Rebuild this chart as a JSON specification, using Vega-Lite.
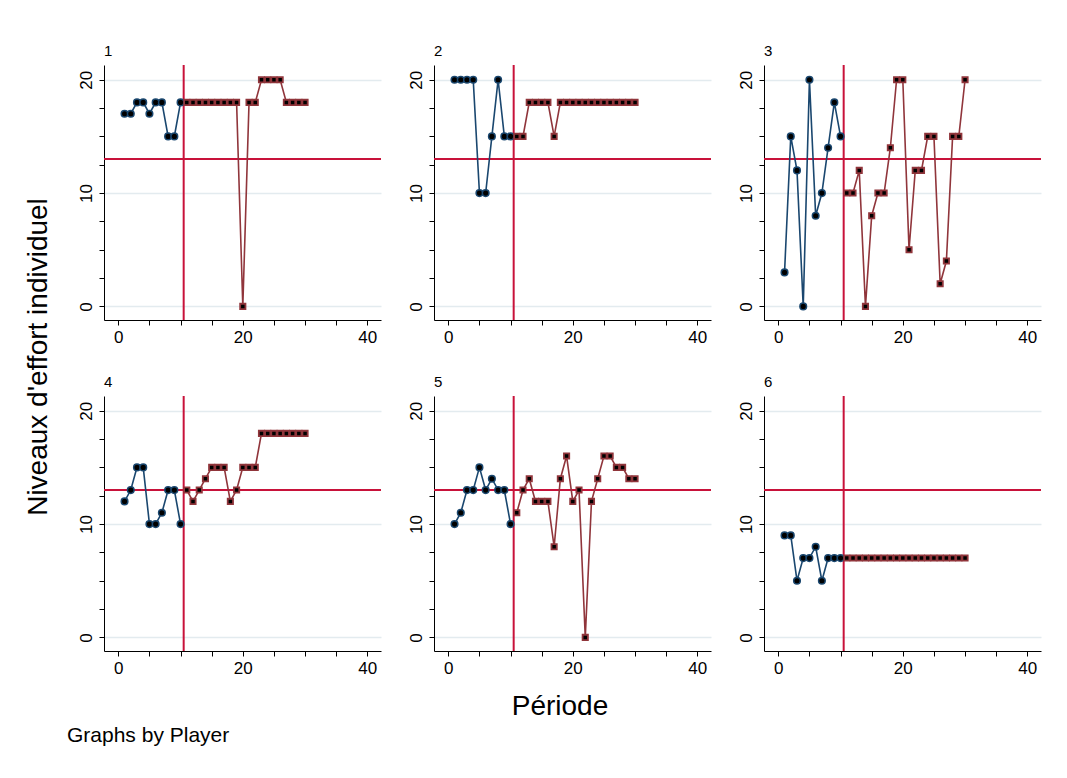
{
  "$schema": "https://vega.github.io/schema/vega-lite/v6.json",
  "background": "white",
  "padding": {"left": 24, "top": 44, "right": 10, "bottom": 10},
  "title": {"text": "Niveaux d'effort individuel", "orient": "left", "anchor": "middle", "fontSize": 28, "fontWeight": "normal", "font": "Liberation Sans", "color": "black", "offset": 14, "dx": 38},
  "spacing": 4,
  "config": {
    "view": {"stroke": null},
    "font": "Liberation Sans",
    "axis": {"domainColor": "black", "tickColor": "black", "labelColor": "black", "labelFont": "Liberation Sans", "labelFontSize": 17, "tickSize": 5, "domainWidth": 1, "tickWidth": 1, "title": null}
  },
  "vconcat": [
    {
      "data": {"values": [
        {"p":1,"t":1,"e":17,"g":"a"},{"p":1,"t":2,"e":17,"g":"a"},{"p":1,"t":3,"e":18,"g":"a"},{"p":1,"t":4,"e":18,"g":"a"},{"p":1,"t":5,"e":17,"g":"a"},{"p":1,"t":6,"e":18,"g":"a"},{"p":1,"t":7,"e":18,"g":"a"},{"p":1,"t":8,"e":15,"g":"a"},{"p":1,"t":9,"e":15,"g":"a"},{"p":1,"t":10,"e":18,"g":"a"},
        {"p":1,"t":11,"e":18,"g":"b"},{"p":1,"t":12,"e":18,"g":"b"},{"p":1,"t":13,"e":18,"g":"b"},{"p":1,"t":14,"e":18,"g":"b"},{"p":1,"t":15,"e":18,"g":"b"},{"p":1,"t":16,"e":18,"g":"b"},{"p":1,"t":17,"e":18,"g":"b"},{"p":1,"t":18,"e":18,"g":"b"},{"p":1,"t":19,"e":18,"g":"b"},{"p":1,"t":20,"e":0,"g":"b"},
        {"p":1,"t":21,"e":18,"g":"b"},{"p":1,"t":22,"e":18,"g":"b"},{"p":1,"t":23,"e":20,"g":"b"},{"p":1,"t":24,"e":20,"g":"b"},{"p":1,"t":25,"e":20,"g":"b"},{"p":1,"t":26,"e":20,"g":"b"},{"p":1,"t":27,"e":18,"g":"b"},{"p":1,"t":28,"e":18,"g":"b"},{"p":1,"t":29,"e":18,"g":"b"},{"p":1,"t":30,"e":18,"g":"b"},
        {"p":2,"t":1,"e":20,"g":"a"},{"p":2,"t":2,"e":20,"g":"a"},{"p":2,"t":3,"e":20,"g":"a"},{"p":2,"t":4,"e":20,"g":"a"},{"p":2,"t":5,"e":10,"g":"a"},{"p":2,"t":6,"e":10,"g":"a"},{"p":2,"t":7,"e":15,"g":"a"},{"p":2,"t":8,"e":20,"g":"a"},{"p":2,"t":9,"e":15,"g":"a"},{"p":2,"t":10,"e":15,"g":"a"},
        {"p":2,"t":11,"e":15,"g":"b"},{"p":2,"t":12,"e":15,"g":"b"},{"p":2,"t":13,"e":18,"g":"b"},{"p":2,"t":14,"e":18,"g":"b"},{"p":2,"t":15,"e":18,"g":"b"},{"p":2,"t":16,"e":18,"g":"b"},{"p":2,"t":17,"e":15,"g":"b"},{"p":2,"t":18,"e":18,"g":"b"},{"p":2,"t":19,"e":18,"g":"b"},{"p":2,"t":20,"e":18,"g":"b"},
        {"p":2,"t":21,"e":18,"g":"b"},{"p":2,"t":22,"e":18,"g":"b"},{"p":2,"t":23,"e":18,"g":"b"},{"p":2,"t":24,"e":18,"g":"b"},{"p":2,"t":25,"e":18,"g":"b"},{"p":2,"t":26,"e":18,"g":"b"},{"p":2,"t":27,"e":18,"g":"b"},{"p":2,"t":28,"e":18,"g":"b"},{"p":2,"t":29,"e":18,"g":"b"},{"p":2,"t":30,"e":18,"g":"b"},
        {"p":3,"t":1,"e":3,"g":"a"},{"p":3,"t":2,"e":15,"g":"a"},{"p":3,"t":3,"e":12,"g":"a"},{"p":3,"t":4,"e":0,"g":"a"},{"p":3,"t":5,"e":20,"g":"a"},{"p":3,"t":6,"e":8,"g":"a"},{"p":3,"t":7,"e":10,"g":"a"},{"p":3,"t":8,"e":14,"g":"a"},{"p":3,"t":9,"e":18,"g":"a"},{"p":3,"t":10,"e":15,"g":"a"},
        {"p":3,"t":11,"e":10,"g":"b"},{"p":3,"t":12,"e":10,"g":"b"},{"p":3,"t":13,"e":12,"g":"b"},{"p":3,"t":14,"e":0,"g":"b"},{"p":3,"t":15,"e":8,"g":"b"},{"p":3,"t":16,"e":10,"g":"b"},{"p":3,"t":17,"e":10,"g":"b"},{"p":3,"t":18,"e":14,"g":"b"},{"p":3,"t":19,"e":20,"g":"b"},{"p":3,"t":20,"e":20,"g":"b"},
        {"p":3,"t":21,"e":5,"g":"b"},{"p":3,"t":22,"e":12,"g":"b"},{"p":3,"t":23,"e":12,"g":"b"},{"p":3,"t":24,"e":15,"g":"b"},{"p":3,"t":25,"e":15,"g":"b"},{"p":3,"t":26,"e":2,"g":"b"},{"p":3,"t":27,"e":4,"g":"b"},{"p":3,"t":28,"e":15,"g":"b"},{"p":3,"t":29,"e":15,"g":"b"},{"p":3,"t":30,"e":20,"g":"b"},
        {"p":4,"t":1,"e":12,"g":"a"},{"p":4,"t":2,"e":13,"g":"a"},{"p":4,"t":3,"e":15,"g":"a"},{"p":4,"t":4,"e":15,"g":"a"},{"p":4,"t":5,"e":10,"g":"a"},{"p":4,"t":6,"e":10,"g":"a"},{"p":4,"t":7,"e":11,"g":"a"},{"p":4,"t":8,"e":13,"g":"a"},{"p":4,"t":9,"e":13,"g":"a"},{"p":4,"t":10,"e":10,"g":"a"},
        {"p":4,"t":11,"e":13,"g":"b"},{"p":4,"t":12,"e":12,"g":"b"},{"p":4,"t":13,"e":13,"g":"b"},{"p":4,"t":14,"e":14,"g":"b"},{"p":4,"t":15,"e":15,"g":"b"},{"p":4,"t":16,"e":15,"g":"b"},{"p":4,"t":17,"e":15,"g":"b"},{"p":4,"t":18,"e":12,"g":"b"},{"p":4,"t":19,"e":13,"g":"b"},{"p":4,"t":20,"e":15,"g":"b"},
        {"p":4,"t":21,"e":15,"g":"b"},{"p":4,"t":22,"e":15,"g":"b"},{"p":4,"t":23,"e":18,"g":"b"},{"p":4,"t":24,"e":18,"g":"b"},{"p":4,"t":25,"e":18,"g":"b"},{"p":4,"t":26,"e":18,"g":"b"},{"p":4,"t":27,"e":18,"g":"b"},{"p":4,"t":28,"e":18,"g":"b"},{"p":4,"t":29,"e":18,"g":"b"},{"p":4,"t":30,"e":18,"g":"b"},
        {"p":5,"t":1,"e":10,"g":"a"},{"p":5,"t":2,"e":11,"g":"a"},{"p":5,"t":3,"e":13,"g":"a"},{"p":5,"t":4,"e":13,"g":"a"},{"p":5,"t":5,"e":15,"g":"a"},{"p":5,"t":6,"e":13,"g":"a"},{"p":5,"t":7,"e":14,"g":"a"},{"p":5,"t":8,"e":13,"g":"a"},{"p":5,"t":9,"e":13,"g":"a"},{"p":5,"t":10,"e":10,"g":"a"},
        {"p":5,"t":11,"e":11,"g":"b"},{"p":5,"t":12,"e":13,"g":"b"},{"p":5,"t":13,"e":14,"g":"b"},{"p":5,"t":14,"e":12,"g":"b"},{"p":5,"t":15,"e":12,"g":"b"},{"p":5,"t":16,"e":12,"g":"b"},{"p":5,"t":17,"e":8,"g":"b"},{"p":5,"t":18,"e":14,"g":"b"},{"p":5,"t":19,"e":16,"g":"b"},{"p":5,"t":20,"e":12,"g":"b"},
        {"p":5,"t":21,"e":13,"g":"b"},{"p":5,"t":22,"e":0,"g":"b"},{"p":5,"t":23,"e":12,"g":"b"},{"p":5,"t":24,"e":14,"g":"b"},{"p":5,"t":25,"e":16,"g":"b"},{"p":5,"t":26,"e":16,"g":"b"},{"p":5,"t":27,"e":15,"g":"b"},{"p":5,"t":28,"e":15,"g":"b"},{"p":5,"t":29,"e":14,"g":"b"},{"p":5,"t":30,"e":14,"g":"b"},
        {"p":6,"t":1,"e":9,"g":"a"},{"p":6,"t":2,"e":9,"g":"a"},{"p":6,"t":3,"e":5,"g":"a"},{"p":6,"t":4,"e":7,"g":"a"},{"p":6,"t":5,"e":7,"g":"a"},{"p":6,"t":6,"e":8,"g":"a"},{"p":6,"t":7,"e":5,"g":"a"},{"p":6,"t":8,"e":7,"g":"a"},{"p":6,"t":9,"e":7,"g":"a"},{"p":6,"t":10,"e":7,"g":"a"},
        {"p":6,"t":11,"e":7,"g":"b"},{"p":6,"t":12,"e":7,"g":"b"},{"p":6,"t":13,"e":7,"g":"b"},{"p":6,"t":14,"e":7,"g":"b"},{"p":6,"t":15,"e":7,"g":"b"},{"p":6,"t":16,"e":7,"g":"b"},{"p":6,"t":17,"e":7,"g":"b"},{"p":6,"t":18,"e":7,"g":"b"},{"p":6,"t":19,"e":7,"g":"b"},{"p":6,"t":20,"e":7,"g":"b"},
        {"p":6,"t":21,"e":7,"g":"b"},{"p":6,"t":22,"e":7,"g":"b"},{"p":6,"t":23,"e":7,"g":"b"},{"p":6,"t":24,"e":7,"g":"b"},{"p":6,"t":25,"e":7,"g":"b"},{"p":6,"t":26,"e":7,"g":"b"},{"p":6,"t":27,"e":7,"g":"b"},{"p":6,"t":28,"e":7,"g":"b"},{"p":6,"t":29,"e":7,"g":"b"},{"p":6,"t":30,"e":7,"g":"b"}
      ]},
      "facet": {"field": "p", "type": "ordinal", "header": {"title": "Période", "titleOrient": "bottom", "titleFontSize": 28, "titleFontWeight": "normal", "titleFont": "Liberation Sans", "titleColor": "black", "titlePadding": 17, "labelOrient": "top", "labelAnchor": "start", "labelFontSize": 15, "labelFont": "Liberation Sans", "labelColor": "black", "labelPadding": 5}},
      "columns": 3,
      "spacing": {"column": 25, "row": 30},
      "resolve": {"axis": {"x": "independent", "y": "independent"}},
      "spec": {
        "width": 277,
        "height": 255,
        "encoding": {
          "x": {"field": "t", "type": "quantitative", "scale": {"domain": [-2.3, 42.2], "nice": false, "zero": false},
                "axis": {"values": [0,5,10,15,20,25,30,35,40], "labelExpr": "datum.value % 20 === 0 ? datum.label : ''", "grid": false, "labelPadding": 4}},
          "y": {"field": "e", "type": "quantitative", "scale": {"domain": [-1.2, 21.3], "nice": false, "zero": false},
                "axis": {"values": [0,2.5,5,7.5,10,12.5,15,17.5,20], "labelExpr": "datum.value % 10 === 0 ? datum.label : ''", "labelAngle": -90, "labelAlign": "center", "labelBaseline": "bottom", "labelPadding": 4,
                         "grid": true, "gridColor": "#e3ebef", "gridWidth": 1.5, "gridOpacity": {"condition": {"test": "datum.value % 10 !== 0", "value": 0}, "value": 1}}}
        },
        "layer": [
          {"transform": [{"filter": "datum.t == 1"}], "mark": {"type": "rule", "color": "#c8123a", "strokeWidth": 2}, "encoding": {"x": {"datum": 10.5}, "y": null}},
          {"transform": [{"filter": "datum.t == 1"}], "mark": {"type": "rule", "color": "#c8123a", "strokeWidth": 2}, "encoding": {"y": {"datum": 13}, "x": null}},
          {"mark": {"type": "line", "strokeWidth": 1.6}, "encoding": {"color": {"field": "g", "type": "nominal", "scale": {"domain": ["a","b"], "range": ["#1a476f", "#90353b"]}, "legend": null}}},
          {"mark": {"type": "point", "filled": false, "fill": "black", "fillOpacity": 1, "opacity": 1}, "encoding": {
            "stroke": {"field": "g", "type": "nominal", "scale": {"domain": ["a","b"], "range": ["#1a476f", "#90353b"]}, "legend": null},
            "shape": {"field": "g", "type": "nominal", "scale": {"domain": ["a","b"], "range": ["circle", "square"]}, "legend": null},
            "size": {"field": "g", "type": "nominal", "scale": {"domain": ["a","b"], "range": [44, 28]}, "legend": null},
            "strokeWidth": {"field": "g", "type": "nominal", "scale": {"domain": ["a","b"], "range": [1.5, 1.8]}, "legend": null}
          }}
        ]
      }
    },
    {
      "data": {"values": [{"note": "Graphs by Player"}]},
      "width": 2,
      "height": 20,
      "mark": {"type": "text", "align": "left", "baseline": "middle", "fontSize": 21, "font": "Liberation Sans", "color": "black", "dx": -38},
      "encoding": {"text": {"field": "note", "type": "nominal"}}
    }
  ]
}
